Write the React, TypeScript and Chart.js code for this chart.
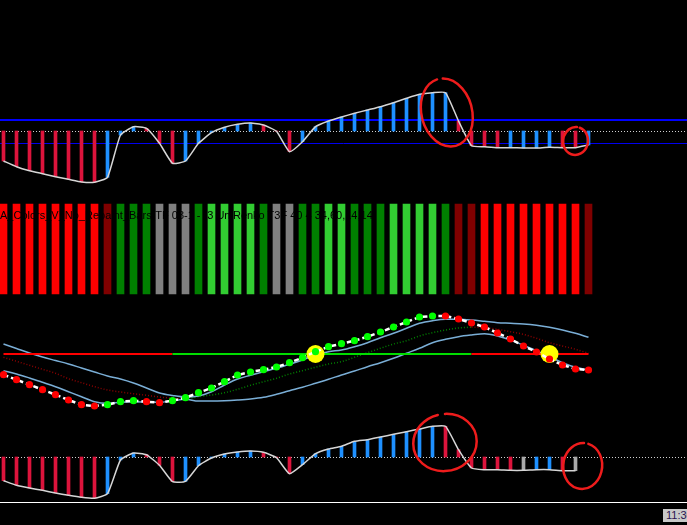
import React, { useEffect, useRef } from 'react';
import { Chart, registerables } from 'chart.js';

Chart.register(...registerables);

// ---------- data ----------
const BARS: number[] = Array.from({ length: 46 }, (_, i) => i);

// upper histogram (oscillator) values and bar states
const HIST_TOP: number[] = [
  -30, -35.7, -39.7, -42.7, -45.7, -48.3, -51, -51.3, -46.3, -4,
  4.3, 2.7, -12.3, -32.3, -30, -12.3, -1.7, 3.7, 6.7, 8,
  6, -0.3, -20.7, -10.7, 4.3, 10, 14, 17.7, 21, 24.3,
  28.3, 32.7, 36.7, 38.3, 38.3, 10, -14.7, -15.7, -16.7, -16.7,
  -17, -17, -16.3, -16.7, -16.7, -14,
];
const HIST_TOP_STATE: string[] = (
  'RRRRRRRR' + 'BBB' + 'RRR' + 'BBBBBB' + 'RRR' + 'BBBBBBBBBBBB' + 'RRRR' + 'BBBB' + 'RR' + 'B'
).split('');
const TOP_LEVELS_UP = 11;
const TOP_LEVELS_DN = -12;

// lower histogram
const HIST_BOT: (number | null)[] = [
  -23.7, -28.3, -31, -33.3, -36, -38.3, -40.3, -41.3, -36.7, -3,
  4, 2.3, -8.3, -24.7, -24.3, -8.7, -1, 3, 5, 6,
  4.7, -0.7, -16.7, -7.7, 3.3, 8, 10.7, 15.7, 17.3, 20,
  22.7, 25.3, 28, 30.7, 30.7, 7.3, -11, -12.7, -12.7, -13.3,
  -13.3, -12.7, -12.7, -13.7, -13.7, null,
];
const HIST_BOT_STATE: string[] = (
  'RRRRRRRR' + 'BBB' + 'RRR' + 'BBBBBB' + 'RRR' + 'BBBBBBBBBBB' + 'RRRRRR' + 'S' + 'BB' + 'R' + 'S' + '-'
).split('');

// colour bars
const COLOR_BAR_STATE: string[] = (
  'RRRRRRRR' + 'D' + 'GGG' + 'SSS' + 'G' + 'LLLL' + 'G' + 'SS' + 'GG' + 'LL' + 'GGG' + 'LLLL' + 'G' + 'DD' + 'RRRRRRRR' + 'D'
).split('');
const COLOR_BAR_LABEL = 'A_Colors_V_No_Repaint_Bars(TF 03-1 - (3 UniRenko T3F 40 4 34,60,14,14)';

// price panel
const PRICE_DOTS: number[] = [
  55.3, 50.3, 45.3, 40.3, 35.3, 30, 25.3, 24, 25.3, 28.3,
  29.3, 28.3, 27.3, 29.3, 32.3, 37.3, 42, 48.3, 55, 58,
  60.3, 63, 67.3, 72.3, 78.3, 83.3, 86.3, 89.3, 93.3, 98,
  103, 108, 113, 114, 114, 111, 107, 103, 97, 91,
  84, 78, 71, 65, 61, 60,
];
const PRICE_DOT_STATE: string[] = (
  'RRRRRRRR' + 'GGG' + 'RR' + 'GGGGGGGGGGGGGGGGGGGGG' + 'RRRRRRRRRRRR'
).split('');
const MA_FAST: number[] = [
  86, 81.5, 77, 73, 69.5, 66, 62, 58, 54, 51,
  47, 42, 37, 34.5, 33, 34, 38.3, 45, 51, 54.7,
  58.3, 61.7, 65.7, 70, 75, 78.3, 80, 83.3, 87.3, 92.3,
  96.7, 101.7, 106.7, 109.3, 110.7, 110.7, 110, 108.7, 107.3, 106.7,
  106, 104.7, 102.7, 100, 96.7, 92.7,
];
const MA_SLOW: number[] = [
  59.3, 56, 52, 47.7, 43.3, 38.3, 33.3, 28.3, 26.7, 27.7,
  28.3, 28, 27.7, 29.3, 30.7, 29, 29, 29.3, 30, 31,
  32.7, 35.7, 39.3, 42.7, 46.7, 50.7, 55, 59, 63.3, 67.3,
  71.7, 76.7, 81.7, 87.3, 90.7, 93.3, 95, 96.3, 94, 90,
  84.7, 79.3, 73.3, 67.3, 62.7, 60,
];
const MA_DOTTED: number[] = [
  72.7, 68.7, 64.7, 60.7, 56.7, 51.3, 47.3, 43.3, 40, 38,
  36.3, 34.7, 33, 31.7, 31.3, 33.3, 35, 37.3, 40.7, 44.7,
  48.3, 51.7, 56, 59.3, 62.7, 66, 68.3, 72.7, 77.3, 81.7,
  86, 89.3, 94, 97.3, 100, 102, 102.7, 102.3, 100.7, 98.3,
  95.7, 91.7, 87.3, 84, 80.7, 76.7,
];
const MA_DOTTED_STATE: string[] = ('R'.repeat(14) + 'G'.repeat(22) + 'R'.repeat(10)).split('');
const TREND_LEVEL = 76;
const TREND_LEVEL_STATE: string[] = ('R'.repeat(13) + 'G'.repeat(23) + 'R'.repeat(10)).split('');
const SIGNAL_BARS: number[] = [24, 42];

// hand-drawn marks (data units: bar index, panel value)
const MARKS = [
  { axis: 'yH1', cx: 34.1, cy: 18.5, rx: 1.95, ry: 34.5, rot: -0.25 },
  { axis: 'yH1', cx: 44.0, cy: -10, rx: 0.96, ry: 14, rot: 0.15 },
  { axis: 'yH2', cx: 33.96, cy: 14.5, rx: 2.45, ry: 28.5, rot: -0.2 },
  { axis: 'yH2', cx: 44.55, cy: -9, rx: 1.5, ry: 23, rot: 0.1 },
];

// ---------- styles ----------
const BAR_COLORS: Record<string, string> = {
  R: '#ff0000', D: '#800000', G: '#008000', L: '#32cd32', S: '#808080',
};
const HIST_COLORS: Record<string, string> = {
  R: '#dc143c', B: '#1e90ff', S: '#a9a9a9', '-': 'rgba(0,0,0,0)',
};
const DOT_COLORS: Record<string, string> = { R: '#ff0000', G: '#00ff00' };
const MA_DOT_COLORS: Record<string, string> = { R: '#8b0000', G: '#008000' };
const LEVEL_COLORS: Record<string, string> = { R: '#ff0000', G: '#00dd00' };

const W = 687;
const H = 525;
const STEP = 13; // px per bar
const X_MIN = -3.5 / STEP;
const X_MAX = X_MIN + W / STEP;

const pts = (vals: (number | null)[]) => vals.map((v, i) => ({ x: BARS[i], y: v }));

const levelsPlugin = {
  id: 'levels',
  beforeDatasetsDraw(chart: any) {
    const { ctx, chartArea } = chart;
    const hline = (axis: string, v: number, color: string, width: number, dash: number[]) => {
      const y = Math.round(chart.scales[axis].getPixelForValue(v)) + (width % 2 ? 0.5 : 0);
      ctx.save();
      ctx.strokeStyle = color;
      ctx.lineWidth = width;
      ctx.setLineDash(dash);
      ctx.beginPath();
      ctx.moveTo(chartArea.left, y);
      ctx.lineTo(chartArea.right, y);
      ctx.stroke();
      ctx.restore();
    };
    hline('yH1', TOP_LEVELS_UP, '#0000ff', 2, []);
    hline('yH1', TOP_LEVELS_DN, '#0000ee', 1, []);
    hline('yH1', 0, '#d0d0d0', 1, [1, 2]);
    hline('yH2', 0, '#d0d0d0', 1, [1, 2]);
  },
};

const marksPlugin = {
  id: 'marks',
  afterDatasetsDraw(chart: any) {
    const { ctx } = chart;
    const xs = chart.scales.x;
    ctx.save();
    ctx.strokeStyle = '#ee1c1c';
    ctx.lineWidth = 2.5;
    ctx.lineCap = 'round';
    MARKS.forEach((m) => {
      const ys = chart.scales[m.axis];
      const cx = xs.getPixelForValue(m.cx);
      const cy = ys.getPixelForValue(m.cy);
      const rx = Math.abs(xs.getPixelForValue(m.cx + m.rx) - cx);
      const ry = Math.abs(ys.getPixelForValue(m.cy + m.ry) - cy);
      ctx.beginPath();
      ctx.ellipse(cx, cy, rx, ry, m.rot, -Math.PI / 2 + 0.18, (3 * Math.PI) / 2 - 0.05);
      ctx.stroke();
    });
    ctx.restore();
  },
};

export default function App() {
  const ref = useRef<HTMLCanvasElement>(null);

  useEffect(() => {
    if (!ref.current) return;
    const chart = new Chart(ref.current, {
      type: 'bar',
      data: {
        datasets: [
          {
            type: 'line',
            label: 'dots',
            yAxisID: 'yMA',
            data: pts(PRICE_DOTS),
            borderColor: '#ffffff',
            borderWidth: 2.5,
            borderDash: [5, 3],
            pointRadius: 3.6,
            pointBorderWidth: 0,
            pointBackgroundColor: PRICE_DOT_STATE.map((s) => DOT_COLORS[s]),
            tension: 0,
            order: 1,
          } as any,
          {
            type: 'line',
            label: 'signals',
            yAxisID: 'yMA',
            data: SIGNAL_BARS.map((b) => ({ x: BARS[b], y: TREND_LEVEL })),
            showLine: false,
            pointRadius: 9,
            pointBorderWidth: 0,
            pointBackgroundColor: '#ffff00',
            order: 2,
          } as any,
          {
            type: 'line',
            label: 'level',
            yAxisID: 'yMA',
            data: BARS.map((b) => ({ x: b, y: TREND_LEVEL })),
            borderWidth: 2,
            pointRadius: 0,
            borderColor: '#ff0000',
            segment: {
              borderColor: (c: any) => LEVEL_COLORS[TREND_LEVEL_STATE[c.p0DataIndex]],
            },
            order: 3,
          } as any,
          {
            type: 'line',
            label: 'maFast',
            yAxisID: 'yMA',
            data: pts(MA_FAST),
            borderColor: '#7aaed6',
            borderWidth: 1.5,
            pointRadius: 0,
            cubicInterpolationMode: 'monotone',
            order: 4,
          } as any,
          {
            type: 'line',
            label: 'maSlow',
            yAxisID: 'yMA',
            data: pts(MA_SLOW),
            borderColor: '#7aaed6',
            borderWidth: 1.5,
            pointRadius: 0,
            cubicInterpolationMode: 'monotone',
            order: 5,
          } as any,
          {
            type: 'line',
            label: 'maDotted',
            yAxisID: 'yMA',
            data: pts(MA_DOTTED),
            borderColor: '#8b0000',
            borderWidth: 1.5,
            borderDash: [1, 2],
            pointRadius: 0,
            cubicInterpolationMode: 'monotone',
            segment: {
              borderColor: (c: any) => MA_DOT_COLORS[MA_DOTTED_STATE[c.p0DataIndex]],
            },
            order: 6,
          } as any,
          {
            type: 'line',
            label: 'histTopLine',
            yAxisID: 'yH1',
            data: pts(HIST_TOP),
            borderColor: '#d6d6d6',
            borderWidth: 1.5,
            pointRadius: 0,
            tension: 0.15,
            order: 7,
          } as any,
          {
            type: 'bar',
            label: 'histTop',
            yAxisID: 'yH1',
            data: pts(HIST_TOP),
            backgroundColor: HIST_TOP_STATE.map((s) => HIST_COLORS[s]),
            barThickness: 3,
            grouped: false,
            order: 8,
          } as any,
          {
            type: 'line',
            label: 'histBotLine',
            yAxisID: 'yH2',
            data: pts(HIST_BOT),
            borderColor: '#d6d6d6',
            borderWidth: 1.5,
            pointRadius: 0,
            tension: 0.15,
            order: 9,
          } as any,
          {
            type: 'bar',
            label: 'histBot',
            yAxisID: 'yH2',
            data: pts(HIST_BOT),
            backgroundColor: HIST_BOT_STATE.map((s) => HIST_COLORS[s]),
            barThickness: 3,
            grouped: false,
            order: 10,
          } as any,
          {
            type: 'bar',
            label: 'colorBars',
            yAxisID: 'yC',
            data: COLOR_BAR_STATE.map((_, i) => ({ x: BARS[i], y: 1 })),
            backgroundColor: COLOR_BAR_STATE.map((s) => BAR_COLORS[s]),
            barThickness: 7,
            grouped: false,
            order: 11,
          } as any,
        ],
      },
      options: {
        responsive: false,
        maintainAspectRatio: false,
        animation: false,
        layout: { padding: 0, autoPadding: false },
        plugins: { legend: { display: false }, tooltip: { enabled: false } },
        scales: {
          x: { type: 'linear', min: X_MIN, max: X_MAX, offset: false, display: false },
          yH1: { type: 'linear', min: 131 - H, max: 131, display: false },
          yC: { type: 'linear', min: 294 / 90 - H / 90, max: 294 / 90, display: false },
          yMA: { type: 'linear', min: 430 - H, max: 430, display: false },
          yH2: { type: 'linear', min: 457 - H, max: 457, display: false },
        },
      } as any,
      plugins: [levelsPlugin, marksPlugin],
    });
    return () => chart.destroy();
  }, []);

  return (
    <div
      style={{
        position: 'fixed',
        left: 0,
        top: 0,
        width: W,
        height: H,
        background: '#000',
        overflow: 'hidden',
      }}
    >
      <canvas ref={ref} width={W} height={H} style={{ display: 'block', width: W, height: H }} />
      <div
        style={{
          position: 'absolute',
          left: 0,
          top: 209,
          font: '11px "Liberation Sans", Arial, sans-serif',
          color: '#000',
          whiteSpace: 'nowrap',
          lineHeight: '13px',
        }}
      >
        {COLOR_BAR_LABEL}
      </div>
      <div style={{ position: 'absolute', left: 0, top: 502, width: W, height: 1, background: '#ffffff' }} />
      <div
        style={{
          position: 'absolute',
          left: 663,
          top: 509,
          height: 13,
          paddingLeft: 3,
          paddingRight: 4,
          background: '#c8c8c8',
          color: '#2b1250',
          font: '11px "Liberation Sans", Arial, sans-serif',
          lineHeight: '13px',
          whiteSpace: 'nowrap',
        }}
      >
        11:30
      </div>
    </div>
  );
}
